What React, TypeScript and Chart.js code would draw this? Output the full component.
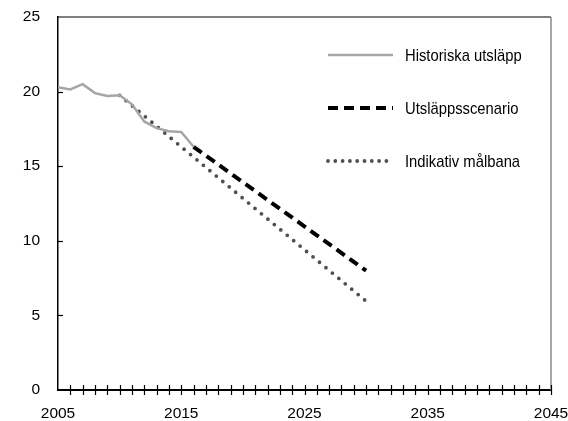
import React, { useEffect, useRef } from "react";
import { Chart, registerables } from "chart.js";

Chart.register(...registerables);

const histYears = [2005, 2006, 2007, 2008, 2009, 2010, 2011, 2012, 2013, 2014, 2015, 2016];
const histValues = [20.3, 20.15, 20.5, 19.9, 19.7, 19.75, 19.15, 18.0, 17.55, 17.35, 17.3, 16.3];
const scenarioYears = [2016, 2030];
const scenarioValues = [16.3, 8.0];
const targetYears = [2010, 2030];
const targetValues = [19.75, 5.95];
const seriesLabels = ["Historiska utsläpp", "Utsläppsscenario", "Indikativ målbana"];
const xLabelYears = [2005, 2015, 2025, 2035, 2045];
const yTicks = [0, 5, 10, 15, 20, 25];

const FONT = "'Liberation Sans', Arial, sans-serif";

const toPoints = (xs: number[], ys: number[]) => xs.map((x, i) => ({ x, y: ys[i] }));

const decorPlugin = {
  id: "decor",
  afterDraw(chart: any) {
    const { ctx, chartArea, scales } = chart;
    const { left, right, top, bottom } = chartArea;
    const xs = scales.x;
    const ys = scales.y;
    ctx.save();
    ctx.strokeStyle = "#000";
    ctx.lineWidth = 1.2;
    ctx.beginPath();
    ctx.moveTo(left, top);
    ctx.lineTo(right, top);
    ctx.stroke();
    ctx.strokeStyle = "#8a8a8a";
    ctx.lineWidth = 1.5;
    ctx.beginPath();
    ctx.moveTo(right, top);
    ctx.lineTo(right, bottom);
    ctx.stroke();
    ctx.strokeStyle = "#000";
    ctx.lineWidth = 1.2;
    for (let yr = xs.min + 1; yr <= xs.max; yr++) {
      const px = Math.round(xs.getPixelForValue(yr)) + 0.5;
      ctx.beginPath();
      ctx.moveTo(px, bottom - 5);
      ctx.lineTo(px, bottom + 5);
      ctx.stroke();
    }
    for (const v of yTicks) {
      if (v === 0 || v === 25) continue;
      const py = Math.round(ys.getPixelForValue(v)) + 0.5;
      ctx.beginPath();
      ctx.moveTo(left, py);
      ctx.lineTo(left + 5, py);
      ctx.stroke();
    }
    const datasets = chart.data.datasets;
    datasets.forEach((ds: any, i: number) => {
      const y = top + 38 + i * 53;
      const x0 = left + 270;
      const x1 = left + 335;
      ctx.save();
      ctx.strokeStyle = ds.borderColor;
      ctx.lineWidth = ds.borderWidth;
      ctx.lineCap = ds.borderCapStyle || "butt";
      ctx.setLineDash(i === 2 ? [0, 7.3] : ds.borderDash || []);
      ctx.beginPath();
      ctx.moveTo(x0, y);
      ctx.lineTo(x1, y);
      ctx.stroke();
      ctx.restore();
      ctx.save();
      ctx.translate(x1 + 12, y + 1);
      ctx.scale(0.87, 1);
      ctx.font = `17px ${FONT}`;
      ctx.textBaseline = "middle";
      ctx.textAlign = "left";
      ctx.fillStyle = "#000";
      ctx.fillText(ds.label, 0, 0);
      ctx.restore();
    });
    ctx.restore();
  },
};

const noScalePadding = (s: any) => {
  s.paddingTop = 0;
  s.paddingBottom = 0;
  s.paddingLeft = 0;
  s.paddingRight = 0;
};

export default function App() {
  const ref = useRef<HTMLCanvasElement>(null);
  useEffect(() => {
    if (!ref.current) return;
    const chart = new Chart(ref.current, {
      type: "line",
      data: {
        datasets: [
          {
            label: seriesLabels[0],
            data: toPoints(histYears, histValues),
            borderColor: "#a6a6a6",
            borderWidth: 2.5,
            pointRadius: 0,
            tension: 0,
          },
          {
            label: seriesLabels[1],
            data: toPoints(scenarioYears, scenarioValues),
            borderColor: "#000000",
            borderWidth: 4,
            borderDash: [10, 6],
            pointRadius: 0,
          },
          {
            label: seriesLabels[2],
            data: toPoints(targetYears, targetValues),
            borderColor: "#505050",
            borderWidth: 3.8,
            borderDash: [0, 8.4],
            borderCapStyle: "round",
            pointRadius: 0,
          },
        ] as any,
      },
      options: {
        animation: false,
        responsive: false,
        layout: { padding: { top: 17, right: 17, left: 0, bottom: 0 } },
        plugins: { legend: { display: false }, tooltip: { enabled: false } },
        scales: {
          x: {
            type: "linear",
            min: 2005,
            max: 2045,
            afterFit: (s: any) => {
              s.height = 31;
              noScalePadding(s);
            },
            afterBuildTicks: (s: any) => {
              s.ticks = xLabelYears.map((v) => ({ value: v }));
            },
            ticks: {
              autoSkip: false,
              maxRotation: 0,
              padding: 14,
              color: "#000",
              font: { family: FONT, size: 15.5 },
              callback: (v: any) => String(v),
            },
            grid: { display: false, drawTicks: false },
            border: { display: true, color: "#000", width: 2 },
          },
          y: {
            min: 0,
            max: 25,
            afterFit: (s: any) => {
              s.width = 58;
              noScalePadding(s);
            },
            afterBuildTicks: (s: any) => {
              s.ticks = yTicks.map((v) => ({ value: v }));
            },
            ticks: {
              padding: 18,
              color: "#000",
              font: { family: FONT, size: 15.5 },
            },
            grid: { display: false, drawTicks: false },
            border: { display: true, color: "#000", width: 1.5 },
          },
        },
      },
      plugins: [decorPlugin],
    });
    return () => chart.destroy();
  }, []);
  return (
    <div style={{ position: "fixed", left: 0, top: 0, width: 568, height: 421, background: "#fff" }}>
      <canvas ref={ref} width={568} height={421} style={{ display: "block" }} />
    </div>
  );
}
